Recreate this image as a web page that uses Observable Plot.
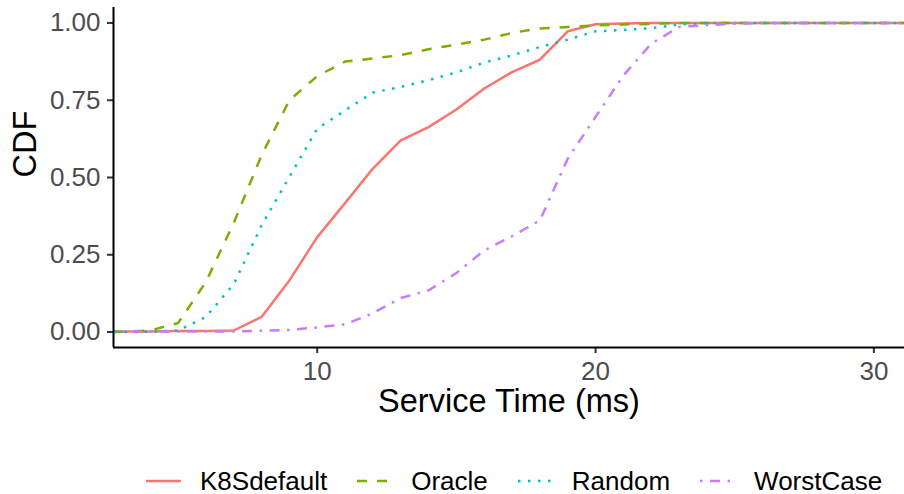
<!DOCTYPE html>
<html>
<head>
<meta charset="utf-8">
<script src="https://cdn.jsdelivr.net/npm/d3@7"></script>
<script src="https://cdn.jsdelivr.net/npm/@observablehq/plot@0.6"></script>
<style>
  html, body { margin: 0; padding: 0; background: #fff; }
  body { width: 904px; height: 494px; overflow: hidden; font-family: "Liberation Sans", Arimo, Arial, sans-serif; }
  #legend { display: flex; align-items: center; height: 30px; margin-top: 26px; padding-left: 146px; box-sizing: border-box; width: 904px; }
  .item { display: flex; align-items: center; flex-shrink: 0; margin-right: 30px; }
  .item:last-child { margin-right: 0; }
  .item svg { display: block; flex-shrink: 0; }
  .item span { margin-left: 19px; font-size: 26px; line-height: normal; color: #000; white-space: nowrap; overflow: visible; }
</style>
</head>
<body>
<div id="chart"></div>
<div id="legend"></div>
<script>
// Service time (ms) at which each CDF is sampled
const serviceTime = [2, 3, 4, 5, 6, 7, 8, 9, 10, 11, 12, 13, 14, 15, 16, 17, 18, 19, 20, 21, 22, 23, 24, 25, 26, 27, 28, 29, 30, 31, 32];

// Cumulative fraction of requests per scheduler
const k8sDefault = [0.002, 0.002, 0.002, 0.003, 0.003, 0.005, 0.049, 0.167, 0.307, 0.417, 0.529, 0.620, 0.663, 0.720, 0.788, 0.841, 0.881, 0.973, 0.996, 0.998, 1, 1, 1, 1, 1, 1, 1, 1, 1, 1, 1];
const oracle     = [0, 0.001, 0.005, 0.029, 0.162, 0.353, 0.572, 0.750, 0.828, 0.875, 0.885, 0.896, 0.915, 0.930, 0.946, 0.968, 0.982, 0.987, 0.992, 0.995, 0.997, 1, 1, 1, 1, 1, 1, 1, 1, 1, 1];
const random     = [0, 0, 0.001, 0.005, 0.049, 0.155, 0.345, 0.502, 0.658, 0.717, 0.775, 0.793, 0.815, 0.840, 0.872, 0.895, 0.922, 0.946, 0.973, 0.977, 0.983, 0.995, 1, 1, 1, 1, 1, 1, 1, 1, 1];
const worstCase  = [0.002, 0.002, 0.002, 0.002, 0.002, 0.002, 0.004, 0.007, 0.015, 0.025, 0.061, 0.110, 0.135, 0.191, 0.264, 0.310, 0.361, 0.561, 0.696, 0.830, 0.933, 0.987, 0.993, 0.998, 1, 1, 1, 1, 1, 1, 1];

const seriesNames  = ["K8Sdefault", "Oracle", "Random", "WorstCase"];
const seriesValues = [k8sDefault, oracle, random, worstCase];
const seriesColors = ["#F8766D", "#7CAE00", "#00BFC4", "#C77CFF"];
const seriesDashes = ["none", "10,10", "2.5,7.5", "2.5,7.5,10,7.5"];

const xTicks = [10, 20, 30];
const yTicks = [0, 0.25, 0.5, 0.75, 1];

const xDomain = [2.68, 31.1];
const yDomain = [-0.05, 1.05];

const rows = seriesNames.flatMap((name, i) =>
  serviceTime.map((t, j) => ({series: name, time: t, cdf: seriesValues[i][j]}))
);

const chart = Plot.plot({
  width: 904,
  height: 440,
  marginLeft: 113,
  marginRight: 0,
  marginTop: 7,
  marginBottom: 93,
  style: {fontFamily: "'Liberation Sans', Arimo, Arial, sans-serif", fontSize: "26px", background: "#fff", overflow: "visible"},
  x: {domain: xDomain},
  y: {domain: yDomain},
  color: {domain: seriesNames, range: seriesColors},
  marks: [
    ...seriesNames.map((name, i) =>
      Plot.line(rows.filter(d => d.series === name), {
        x: "time", y: "cdf", stroke: "series",
        strokeWidth: 2.5, strokeDasharray: seriesDashes[i],
        strokeLinecap: "butt", strokeLinejoin: "round", clip: true
      })
    ),
    Plot.axisY(yTicks, {
      tickFormat: d3.format(".2f"), tickSize: 6, tickPadding: 7,
      stroke: "#333333", strokeWidth: 2, fill: "#4D4D4D", fontSize: 26, label: null
    }),
    Plot.axisX(xTicks, {
      tickFormat: d3.format("d"), tickSize: 6, tickPadding: 8,
      stroke: "#333333", strokeWidth: 2, fill: "#4D4D4D", fontSize: 26, label: null
    }),
    Plot.ruleX([xDomain[0]], {stroke: "#000", strokeWidth: 2}),
    Plot.ruleY([yDomain[0]], {stroke: "#000", strokeWidth: 2}),
    Plot.text(["Service Time (ms)"], {frameAnchor: "bottom", lineAnchor: "middle", dy: 54, fontSize: 32.5, fill: "#000"}),
    Plot.text(["CDF"], {frameAnchor: "left", lineAnchor: "middle", dx: -87.5, rotate: -90, fontSize: 32.5, fill: "#000"})
  ]
});
document.getElementById("chart").appendChild(chart);

// Legend: one key line per series, drawn with the same stroke style as its line
const legend = document.getElementById("legend");
seriesNames.forEach((name, i) => {
  const item = document.createElement("div");
  item.className = "item";
  const svg = d3.create("svg").attr("width", 35).attr("height", 26);
  svg.append("line")
    .attr("x1", 0).attr("x2", 35).attr("y1", 13).attr("y2", 13)
    .attr("stroke", seriesColors[i]).attr("stroke-width", 2.5)
    .attr("stroke-dasharray", seriesDashes[i]);
  item.appendChild(svg.node());
  const label = document.createElement("span");
  label.textContent = name;
  item.appendChild(label);
  legend.appendChild(item);
});
</script>
</body>
</html>
